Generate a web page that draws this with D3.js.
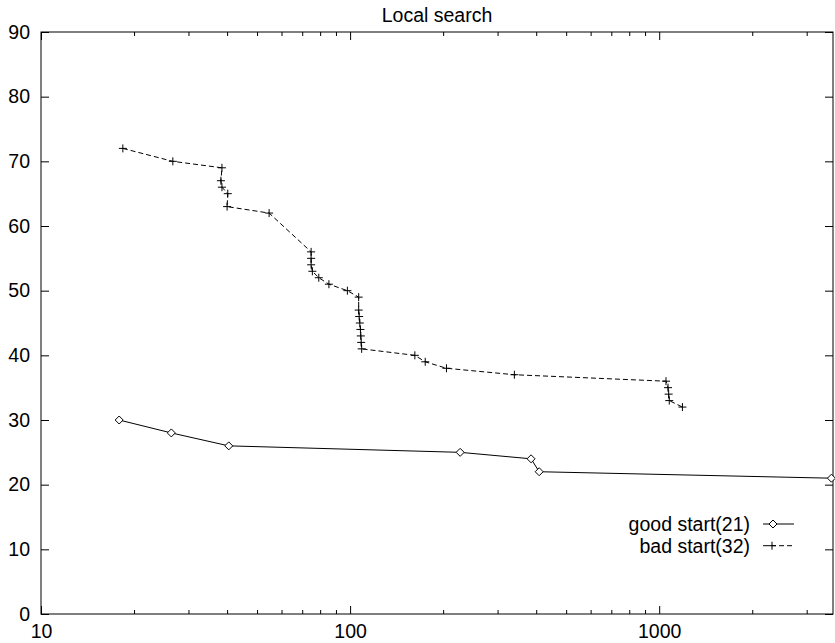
<!DOCTYPE html>
<html>
<head>
<meta charset="utf-8">
<script src="https://cdn.jsdelivr.net/npm/d3@7"></script>
<style>
  body { margin: 0; background: #fff; }
  svg text { font-family: "Liberation Sans", Arial, Helvetica, sans-serif; fill: #000; }
  .domain { display: none; }
</style>
</head>
<body>
<div id="chart"></div>
<script>
//Datos
const goodX = [17.9, 26.4, 40.5, 227, 385, 409, 3607];
const goodY = [30, 28, 26, 25, 24, 22, 21];

const badX = [18.4, 26.7, 38.5, 38.2, 38.5, 40.2, 40.0, 54.7,
    74.8, 74.8, 74.8, 75.5, 79.2, 85.4, 98, 106.6,
    106.6, 107, 107.5, 108, 108.3, 108.6, 109,
    162, 175, 205, 340,
    1052, 1068, 1073, 1078, 1189];
const badY = [72, 70, 69, 67, 66, 65, 63, 62,
    56, 55, 54, 53, 52, 51, 50, 49,
    47, 46, 45, 44, 43, 42, 41,
    40, 39, 38, 37,
    36, 35, 34, 33, 32];

const xMajor = [10, 100, 1000];
const xMinor = [20, 30, 40, 50, 60, 70, 80, 90, 200, 300, 400, 500, 600, 700, 800, 900, 2000, 3000];
const yTicks = [0, 10, 20, 30, 40, 50, 60, 70, 80, 90];
const seriesNames = ['good start(21)', 'bad start(32)'];

const W = 835, H = 643;
const FONT = '19.5px';
const margin = {top: 32, right: 2, bottom: 29, left: 41};
const width = W - margin.left - margin.right,
    height = H - margin.top - margin.bottom;

let svg = d3.select('#chart').append('svg')
    .attr('width', W)
    .attr('height', H)
  .append('g')
    .attr('transform', 'translate(' + margin.left + ',' + margin.top + ')');

let x = d3.scaleLog().domain([10, 3650]).range([0, width]);
let y = d3.scaleLinear().domain([0, 90]).range([height, 0]);

//Ejes (ticks hacia dentro, con espejo arriba y a la derecha)
function styleAxis(g) {
    g.selectAll('.tick line').attr('stroke', '#000');
    g.selectAll('text').style('font-size', FONT);
}

svg.append('g').attr('transform', 'translate(0,' + height + ')')
    .call(d3.axisBottom(x).tickValues(xMajor).tickSize(-8).tickFormat(d3.format('d')))
    .call(styleAxis)
    .call(function(g) { g.selectAll('text').attr('y', 24).attr('dy', 0); });
svg.append('g').attr('transform', 'translate(0,' + height + ')')
    .call(d3.axisBottom(x).tickValues(xMinor).tickSize(-4).tickFormat(''))
    .call(styleAxis);
svg.append('g')
    .call(d3.axisTop(x).tickValues(xMajor).tickSize(-8).tickFormat(''))
    .call(styleAxis);
svg.append('g')
    .call(d3.axisTop(x).tickValues(xMinor).tickSize(-4).tickFormat(''))
    .call(styleAxis);
svg.append('g')
    .call(d3.axisLeft(y).tickValues(yTicks).tickSize(-8).tickPadding(11))
    .call(styleAxis);
svg.append('g').attr('transform', 'translate(' + width + ',0)')
    .call(d3.axisRight(y).tickValues(yTicks).tickSize(-8).tickFormat(''))
    .call(styleAxis);

svg.append('rect')
    .attr('x', 0).attr('y', 0)
    .attr('width', width).attr('height', height)
    .attr('fill', 'none').attr('stroke', '#000').attr('stroke-width', 1);

//Titulo
svg.append('text')
    .attr('x', width / 2).attr('y', -10)
    .attr('text-anchor', 'middle')
    .style('font-size', FONT)
    .text('Local search');

//Series
let good = goodX.map(function(d, i) { return [d, goodY[i]]; });
let bad = badX.map(function(d, i) { return [d, badY[i]]; });

let line = d3.line().x(function(d) { return x(d[0]); }).y(function(d) { return y(d[1]); });

svg.append('path').datum(good)
    .attr('d', line).attr('fill', 'none').attr('stroke', '#000').attr('stroke-width', 1);
svg.append('path').datum(bad)
    .attr('d', line).attr('fill', 'none').attr('stroke', '#000').attr('stroke-width', 1)
    .attr('stroke-dasharray', '5,3');

function diamond(g, cx, cy) {
    g.append('path')
        .attr('d', 'M' + cx + ',' + (cy - 4) + 'L' + (cx + 4) + ',' + cy + 'L' + cx + ',' + (cy + 4) + 'L' + (cx - 4) + ',' + cy + 'Z')
        .attr('fill', '#fff').attr('stroke', '#000').attr('stroke-width', 1);
}
function plus(g, cx, cy) {
    g.append('path')
        .attr('d', 'M' + (cx - 4) + ',' + cy + 'H' + (cx + 4) + 'M' + cx + ',' + (cy - 4) + 'V' + (cy + 4))
        .attr('fill', 'none').attr('stroke', '#000').attr('stroke-width', 1);
}

let marks = svg.append('g');
good.forEach(function(d) { diamond(marks, x(d[0]), y(d[1])); });
bad.forEach(function(d) { plus(marks, x(d[0]), y(d[1])); });

//Leyenda
let leg = svg.append('g').attr('transform', 'translate(' + (750 - margin.left) + ',' + (524 - margin.top) + ')');
seriesNames.forEach(function(name, i) {
    let ly = i * 21.7;
    leg.append('text').attr('x', 0).attr('y', ly).attr('dy', '0.35em')
        .attr('text-anchor', 'end').style('font-size', FONT).text(name);
    let l = leg.append('line').attr('x1', 13).attr('x2', 44).attr('y1', ly).attr('y2', ly)
        .attr('stroke', '#000').attr('stroke-width', 1);
    if (i == 0) {
        diamond(leg, 23, ly);
    } else {
        l.attr('stroke-dasharray', '5,3');
        plus(leg, 22, ly);
    }
});
</script>
</body>
</html>
